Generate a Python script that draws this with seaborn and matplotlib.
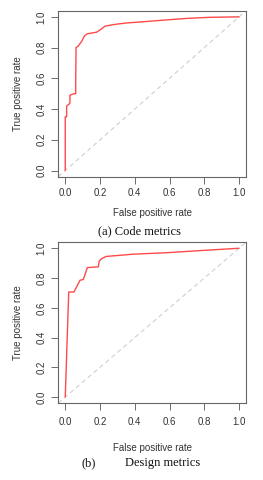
import numpy as np
import pandas as pd
import matplotlib
matplotlib.use("Agg")
import matplotlib.pyplot as plt
import seaborn as sns

# ROC curve values
code_fpr = [0.0, 0.0, 0.008, 0.008, 0.02, 0.027, 0.027, 0.05, 0.06, 0.06, 0.062, 0.075,
            0.094, 0.11, 0.127, 0.18, 0.2, 0.23, 0.28, 0.35, 0.47, 0.58, 0.7, 0.83, 1.0]
code_tpr = [0.0, 0.35, 0.35, 0.42, 0.43, 0.44, 0.49, 0.50, 0.50, 0.55, 0.80, 0.81,
            0.84, 0.875, 0.89, 0.90, 0.915, 0.94, 0.95, 0.96, 0.97, 0.98, 0.99, 0.997, 1.0]

design_fpr = [0.0, 0.02, 0.05, 0.085, 0.104, 0.127, 0.19, 0.196, 0.21, 0.235, 0.39,
              0.58, 0.815, 1.0]
design_tpr = [0.0, 0.706, 0.706, 0.785, 0.79, 0.87, 0.875, 0.915, 0.93, 0.945, 0.96,
              0.97, 0.987, 1.0]

ticks = [0.0, 0.2, 0.4, 0.6, 0.8, 1.0]
tick_labels = ["0.0", "0.2", "0.4", "0.6", "0.8", "1.0"]

sns.set_theme(style="white")
plt.rcParams["font.family"] = ["Liberation Sans", "DejaVu Sans"]

fig = plt.figure(figsize=(2.63, 4.8), dpi=100)
ax1 = fig.add_axes([58.3 / 263, 0.6319, 187.7 / 263, 0.3458])
ax2 = fig.add_axes([58.3 / 263, 0.1604, 187.7 / 263, 0.3348])


def roc_panel(ax, fpr, tpr, xpad, xlab_y):
    df = pd.DataFrame({"fpr": fpr, "tpr": tpr})
    ax.axline((0, 0), (1, 1), color="#cfcfcf", lw=0.8, ls=(0, (4, 3)), zorder=1)
    sns.lineplot(data=df, x="fpr", y="tpr", ax=ax, sort=False, estimator=None,
                 color="#ff4a4a", lw=1.0, zorder=2)
    ax.set_xlim(-0.04, 1.04)
    ax.set_ylim(-0.04, 1.04)
    ax.set_xticks(ticks)
    ax.set_xticklabels(tick_labels)
    ax.set_yticks(ticks)
    ax.set_yticklabels(tick_labels, rotation=90, va="center")
    ax.tick_params(axis="both", which="both", direction="out", length=5, width=0.6,
                   color="#555555", labelsize=7, labelcolor="#333333",
                   bottom=True, left=True)
    ax.tick_params(axis="x", pad=xpad)
    ax.tick_params(axis="y", pad=3.5)
    for s in ax.spines.values():
        s.set_color("#666666")
        s.set_linewidth(0.8)
    ax.set_xlabel("False positive rate", fontsize=7, color="#333333", va="center")
    ax.set_ylabel("True positive rate", fontsize=7, color="#333333", va="center")
    ax.xaxis.set_label_coords(0.5, xlab_y)
    ax.yaxis.set_label_coords(-40 / 187.7, 0.5)


roc_panel(ax1, code_fpr, code_tpr, 3.0, -36.3 / 166)
roc_panel(ax2, design_fpr, design_tpr, 5.4, -44.7 / 160.7)

fig.text(140 / 263, 1 - 231 / 480, "(a) Code metrics", ha="center", va="center",
         fontsize=9, family="Liberation Serif", color="#111111")
fig.text(89 / 263, 1 - 463 / 480, "(b)", ha="center", va="center",
         fontsize=9, family="Liberation Serif", color="#111111")
fig.text(125 / 263, 1 - 463 / 480, "Design metrics", ha="left", va="center",
         fontsize=9, family="Liberation Serif", color="#111111")

fig.savefig("out.png", dpi=100)
